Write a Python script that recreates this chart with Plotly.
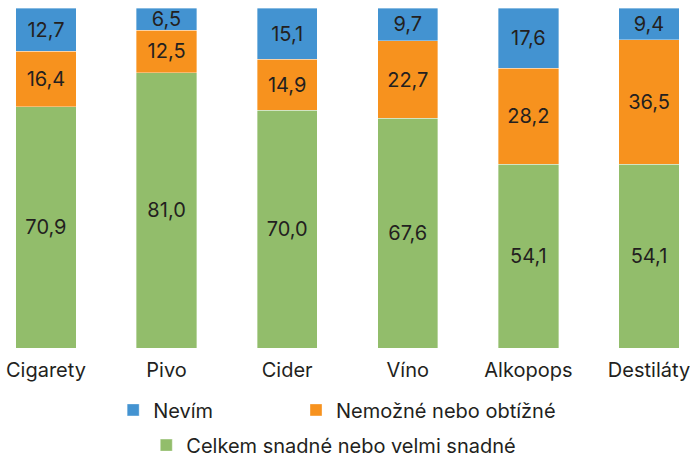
import plotly.graph_objects as go

categories = ["Cigarety", "Pivo", "Cider", "Víno", "Alkopops", "Destiláty"]
easy = [70.9, 81.0, 70.0, 67.6, 54.1, 54.1]
hard = [16.4, 12.5, 14.9, 22.7, 28.2, 36.5]
dunno = [12.7, 6.5, 15.1, 9.7, 17.6, 9.4]

FONT = "Inter"
colors = {"easy": "#92BD6B", "hard": "#F7921E", "dunno": "#4393D1"}

fig = go.Figure()
for name, vals, key, leg in [
    ("Celkem snadné nebo velmi snadné", easy, "easy", "legend3"),
    ("Nemožné nebo obtížné", hard, "hard", "legend2"),
    ("Nevím", dunno, "dunno", "legend"),
]:
    fig.add_trace(go.Bar(
        x=categories, y=vals, name=name, legend=leg,
        marker=dict(color=colors[key], line=dict(color="rgba(255,255,255,0.6)", width=0.6)),
        texttemplate="%{y:.1f}", textposition="inside", insidetextanchor="middle",
        textfont=dict(size=20, color="#231F20", family=FONT),
        width=0.5,
    ))

# one legend per entry so each row can be placed like the original
leg = dict(orientation="h", xanchor="left", yanchor="middle", yref="container",
           font=dict(size=20), itemwidth=30)
fig.update_layout(
    barmode="stack",
    width=690, height=457,
    margin=dict(l=0, r=0, t=8, b=109),
    plot_bgcolor="white", paper_bgcolor="white",
    separators=", ",
    showlegend=True,
    font=dict(family=FONT, size=20, color="#231F20"),
    uniformtext=dict(minsize=20, mode="show"),
    legend=dict(leg, x=0.164, y=0.103),
    legend2=dict(leg, x=0.429, y=0.103),
    legend3=dict(leg, x=0.212, y=0.026),
)
fig.update_xaxes(range=[-0.381, 5.34], showline=False, showgrid=False,
                 tickfont=dict(size=20), ticks="", ticklabelstandoff=8)
fig.update_yaxes(range=[0, 100], visible=False)

# drop the default 8px body margin so the figure fills the window
fig.write_html("out.html", config={"displayModeBar": False},
               post_script="document.body.style.margin = '0';")
